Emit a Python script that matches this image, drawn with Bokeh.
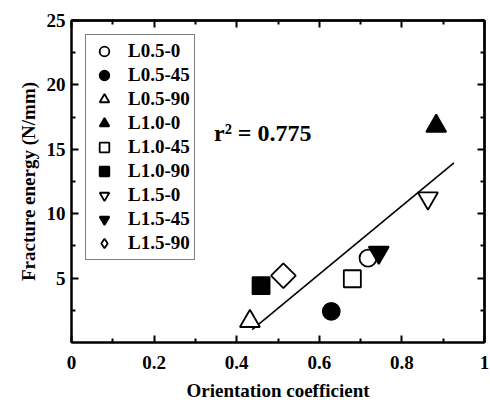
import math
from bokeh.plotting import figure
from bokeh.models import (FixedTicker, LinearAxis, NumeralTickFormatter, Legend,
                          LegendItem, Label)
from bokeh.embed import file_html
from bokeh.resources import INLINE

# ---- data ----
names = ["L0.5-0", "L0.5-45", "L0.5-90", "L1.0-0", "L1.0-45", "L1.0-90",
         "L1.5-0", "L1.5-45", "L1.5-90"]
orientation = [0.718, 0.629, 0.432, 0.883, 0.680, 0.459, 0.863, 0.744, 0.513]
energy = [6.55, 2.42, 1.65, 16.8, 4.95, 4.41, 11.2, 6.99, 5.19]
markers = ["circle", "circle", "triangle", "triangle", "square", "square",
           "inverted_triangle", "inverted_triangle", "diamond"]
filled = [False, True, False, True, False, True, False, True, False]

fit_x = [0.4375, 0.926]
fit_y = [1.0, 13.95]
r2_text = "r\u00b2 = 0.775"

x_ticks = [0, 0.2, 0.4, 0.6, 0.8, 1.0]
x_minor = [0.1, 0.3, 0.5, 0.7, 0.9]
y_ticks = [5, 10, 15, 20, 25]
y_minor = [2.5, 7.5, 12.5, 17.5, 22.5]

FONT = "Liberation Serif"

p = figure(width=490, height=403, x_range=(0, 1), y_range=(0, 25),
           output_backend="svg", toolbar_location=None,
           min_border_left=71, min_border_right=6, min_border_top=20,
           min_border_bottom=60)
p.xgrid.visible = False
p.ygrid.visible = False
p.outline_line_color = "black"
p.outline_line_width = 2
p.background_fill_color = "white"
p.border_fill_color = "white"


def style_axis(ax, ticks, minor, minor_len=4):
    ax.ticker = FixedTicker(ticks=ticks, minor_ticks=minor)
    ax.axis_line_width = 2
    ax.axis_line_color = "black"
    ax.major_tick_line_width = 2
    ax.minor_tick_line_width = 2
    ax.major_tick_in = 7
    ax.major_tick_out = 0
    ax.minor_tick_in = minor_len
    ax.minor_tick_out = 0
    ax.major_label_text_font = FONT
    ax.major_label_text_font_style = "bold"
    ax.major_label_text_font_size = "19px"
    ax.major_label_text_color = "black"


xa = p.xaxis[0]
style_axis(xa, x_ticks, x_minor)
xa.formatter = NumeralTickFormatter(format="0.[0]")
xa.major_label_standoff = 13
xa.axis_label = "Orientation coefficient"
xa.axis_label_text_font = FONT
xa.axis_label_text_font_style = "bold"
xa.axis_label_text_font_size = "19px"
xa.axis_label_text_color = "black"
xa.axis_label_standoff = 8

ya = p.yaxis[0]
style_axis(ya, y_ticks, y_minor)
ya.major_label_standoff = 6
ya.axis_label = "Fracture energy (N/mm)"
ya.axis_label_text_font = FONT
ya.axis_label_text_font_style = "bold"
ya.axis_label_text_font_size = "19px"
ya.axis_label_text_color = "black"
ya.axis_label_standoff = 5

# mirrored tick marks (no labels): majors and minors as separate label-less axes
for side, majors, minors in (("above", x_ticks, x_minor), ("right", y_ticks, y_minor)):
    ax_major = LinearAxis()
    style_axis(ax_major, [], majors, minor_len=7)
    p.add_layout(ax_major, side)
    ax_minor = LinearAxis()
    style_axis(ax_minor, [], minors, minor_len=4)
    p.add_layout(ax_minor, side)

# fit line
p.line(fit_x, fit_y, line_color="black", line_width=1.6)

items = []
for i in range(len(names)):
    m = markers[i]
    angle = 0.0
    size = 17
    fill = "black" if filled[i] else "white"
    if m in ("triangle", "inverted_triangle"):
        size = 20
    legend_r = None
    if m == "diamond":
        # plotted as a rotated square; a hidden diamond renderer for the legend
        legend_r = p.scatter(x=[orientation[i]], y=[energy[i]], marker="diamond",
                             size=size, line_color="black", line_width=1.8,
                             fill_color=fill, visible=False)
        m = "square"
        angle = math.pi / 4
        size = 17.5
    r = p.scatter(x=[orientation[i]], y=[energy[i]], marker=m, size=size,
                  angle=angle, line_color="black", line_width=1.8,
                  fill_color=fill)
    items.append(LegendItem(label=names[i], renderers=[legend_r or r]))

legend = Legend(items=items, location="top_left", margin=14,
                glyph_width=28, glyph_height=24, spacing=0, padding=4,
                label_standoff=10, label_height=20,
                label_text_font=FONT, label_text_font_style="bold",
                label_text_font_size="19px", label_text_color="black",
                border_line_color="black", border_line_width=1.5,
                background_fill_alpha=1.0)
p.add_layout(legend)

p.add_layout(Label(x=0.345, y=16.3, text=r2_text, text_font=FONT,
                   text_font_style="bold", text_font_size="24px",
                   text_color="black", text_baseline="alphabetic"))

open("out.html", "w").write(file_html(p, INLINE))
